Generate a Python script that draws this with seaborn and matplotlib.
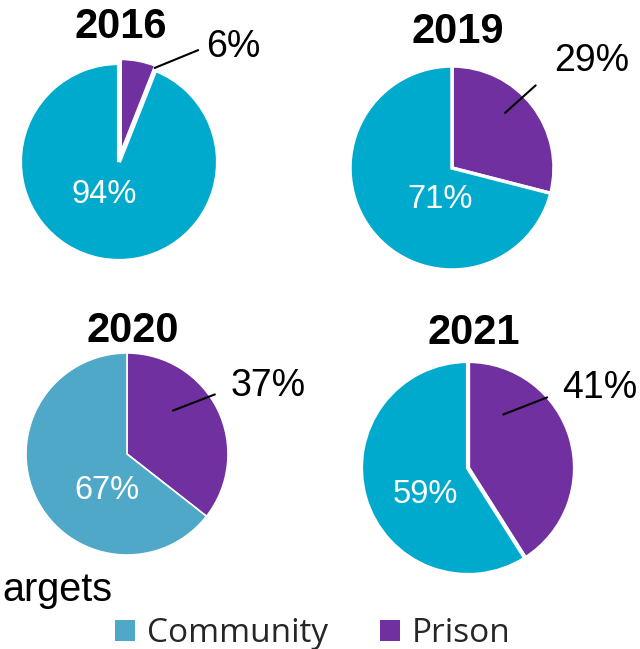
import matplotlib
matplotlib.use("Agg")
import matplotlib.pyplot as plt
import seaborn as sns
from matplotlib.patches import Patch

sns.set_theme(style="white")
plt.rcParams['font.family'] = ['Liberation Sans', 'DejaVu Sans']

# ---- data ----
years = ["2016", "2019", "2020", "2021"]
prison = [6, 29, 37, 41]
community = [94, 71, 67, 59]
series = ["Community", "Prison"]

community_colors = ["#00AACC", "#00AACC", "#4FA8C8", "#00AACC"]
prison_color = "#7030A0"
legend_community_color = "#4FA8C8"

# ---- layout (pixels) ----
W, H = 640, 649
fig = plt.figure(figsize=(W / 100, H / 100), dpi=100)

centers = [(119, 162), (452, 168), (127, 454), (468, 468)]
radii = [99, 102, 101, 107]
edge_w = [3, 2.5, 1.2, 3]
explode_p = [0.05, 0.0, 0.0, 0.0]
title_pos = [(0.02, 1.36), (0.06, 1.33), (0.06, 1.22), (0.05, 1.26)]
leader_start = [(0.36, 0.95), (0.52, 0.54), (0.455, 0.43), (0.33, 0.50)]
leader_end = [(0.80, 1.13), (0.82, 0.81), (0.87, 0.59), (0.74, 0.66)]
out_label = [(0.88, 1.16), (1.00, 1.05), (1.03, 0.67), (0.88, 0.75)]
in_label = [(-0.15, -0.33), (-0.12, -0.31), (-0.20, -0.36), (-0.40, -0.25)]

LIM = 1.3
for i, yr in enumerate(years):
    cx, cy = centers[i]
    r = radii[i]
    w = 2 * LIM * r
    ax = fig.add_axes([(cx - w / 2) / W, 1 - (cy + w / 2) / H, w / W, w / H])
    ax.pie([prison[i], community[i]],
           colors=[prison_color, community_colors[i]],
           startangle=90, counterclock=False,
           explode=[explode_p[i], 0],
           wedgeprops=dict(edgecolor="white", linewidth=edge_w[i]))
    ax.set_xlim(-LIM, LIM)
    ax.set_ylim(-LIM, LIM)
    ax.set_aspect("equal")
    ax.axis("off")
    ax.text(title_pos[i][0], title_pos[i][1], yr, ha="center", va="center",
            fontsize=30, fontweight="bold", color="black")
    ax.annotate("", xy=leader_start[i], xytext=leader_end[i],
                arrowprops=dict(arrowstyle="-", color="black", lw=1.5,
                                shrinkA=0, shrinkB=0))
    ax.text(out_label[i][0], out_label[i][1], f"{prison[i]}%", ha="left",
            va="center", fontsize=27, color="black")
    ax.text(in_label[i][0], in_label[i][1], f"{community[i]}%", ha="center",
            va="center", fontsize=23.5, color="white")

# partially visible heading text (left part is cropped in the reference)
fig.text(2 / W, 1 - 590 / H, "argets", ha="left", va="center",
         fontsize=28.5, color="black")

handles = [Patch(facecolor=legend_community_color, edgecolor="none"),
           Patch(facecolor=prison_color, edgecolor="none")]
fig.legend(handles, series, loc="center", bbox_to_anchor=(313 / W, 1 - 634 / H),
           ncol=2, frameon=False, handlelength=0.6, handleheight=0.6,
           handletextpad=0.36, columnspacing=1.55,
           prop={"family": "Open Sans", "size": 24})

fig.savefig("out.png", dpi=100)
